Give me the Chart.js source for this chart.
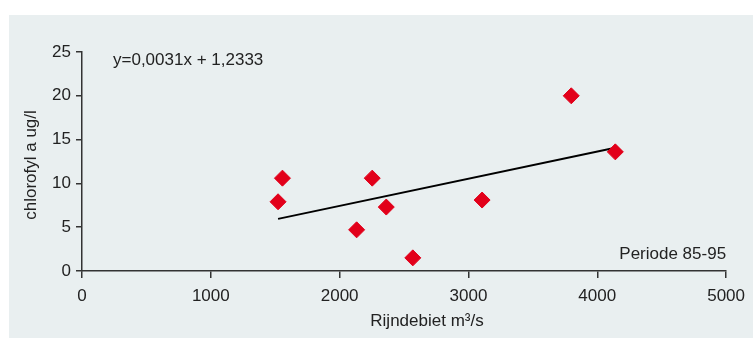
<!DOCTYPE html>
<html>
<head>
<meta charset="utf-8">
<script src="https://cdn.jsdelivr.net/npm/chart.js@4"></script>
<style>
  html, body { margin: 0; padding: 0; background: #fff; }
  #wrap { position: relative; width: 753px; height: 338px; }
</style>
</head>
<body>
<div id="wrap"><canvas id="scatterChart"></canvas></div>
<script>
// Rijndebiet (m3/s) against chlorofyl a (ug/l)
const debiet = [1522, 1556, 2132, 2253, 2362, 2568, 3106, 3798, 4140];
const chlorofyl = [7.9, 10.6, 4.7, 10.6, 7.3, 1.5, 8.1, 20.0, 13.6];
const xTicks = [0, 1000, 2000, 3000, 4000, 5000];
const yTicks = [0, 5, 10, 15, 20, 25];

// regression line as printed on the chart
const slope = 0.0031;
const intercept = 1.2333;
const equationLabel = 'y=0,0031x + 1,2333';
const periodLabel = 'Periode 85-95';
const xTitle = 'Rijndebiet m³/s';
const yTitle = 'chlorofyl a ug/l';

const points = debiet.map((x, i) => ({ x: x, y: chlorofyl[i] }));
const xMin = Math.min(...debiet);
const xMax = Math.max(...debiet);
const trend = [xMin, xMax].map(x => ({ x: x, y: slope * x + intercept }));

const ink = '#222';
const font = '"Liberation Sans", Arial, sans-serif';

// grey panel behind the plot, plus the free text labels
const panel = {
  id: 'panel',
  beforeDraw(chart) {
    const ctx = chart.ctx;
    ctx.save();
    ctx.fillStyle = '#e9eff0';
    ctx.fillRect(9, 15, chart.width - 9, chart.height - 15);
    ctx.restore();
  },
  afterDraw(chart) {
    const ctx = chart.ctx;
    const area = chart.chartArea;
    ctx.save();
    ctx.fillStyle = ink;
    ctx.font = '17px ' + font;
    ctx.textBaseline = 'middle';
    ctx.textAlign = 'left';
    ctx.fillText(equationLabel, area.left + 31, area.top + 8);
    ctx.textAlign = 'right';
    ctx.fillText(periodLabel, area.right, area.bottom - 17);
    // axis titles sit a little off the plot centre
    ctx.textAlign = 'center';
    ctx.fillText(xTitle, area.left + 345, chart.height - 17);
    ctx.translate(31, area.top + 113);
    ctx.rotate(-Math.PI / 2);
    ctx.fillText(yTitle, 0, 0);
    ctx.restore();
  }
};

const config = {
  type: 'scatter',
  data: {
    datasets: [{
      label: 'chlorofyl',
      data: points,
      backgroundColor: '#e2001a',
      borderColor: '#e2001a',
      pointStyle: 'rectRot',
      pointRadius: 8,
      pointHoverRadius: 8,
      order: 1
    }, {
      label: 'trend',
      data: trend,
      showLine: true,
      borderColor: '#000',
      borderWidth: 2,
      pointRadius: 0,
      fill: false,
      order: 2
    }]
  },
  options: {
    responsive: false,
    animation: false,
    layout: { padding: { left: 0, top: 52, right: 26, bottom: 0 } },
    plugins: { legend: { display: false }, tooltip: { enabled: false } },
    scales: {
      x: {
        type: 'linear',
        min: 0,
        max: 5000,
        afterBuildTicks: axis => { axis.ticks = xTicks.map(v => ({ value: v })); },
        afterFit: axis => { axis.height = 67; },
        grid: { drawOnChartArea: false, tickLength: 7, color: '#333', lineWidth: 1.5 },
        border: { color: '#333', width: 1.5 },
        ticks: {
          color: ink,
          font: { family: font, size: 17 },
          padding: 8,
          maxRotation: 0,
          callback: v => String(v)
        }
      },
      y: {
        type: 'linear',
        min: 0,
        max: 25,
        afterBuildTicks: axis => { axis.ticks = yTicks.map(v => ({ value: v })); },
        afterFit: axis => { axis.width = 82; },
        grid: { drawOnChartArea: false, tickLength: 6, color: '#333', lineWidth: 1.5 },
        border: { color: '#333', width: 1.5 },
        ticks: { color: ink, font: { family: font, size: 17 }, padding: 5, callback: v => String(v) }
      }
    }
  },
  plugins: [panel]
};

const canvas = document.getElementById('scatterChart');
canvas.width = 753;
canvas.height = 338;
canvas.style.width = '753px';
canvas.style.height = '338px';
const myScatterChart = new Chart(canvas, config);
</script>
</body>
</html>
